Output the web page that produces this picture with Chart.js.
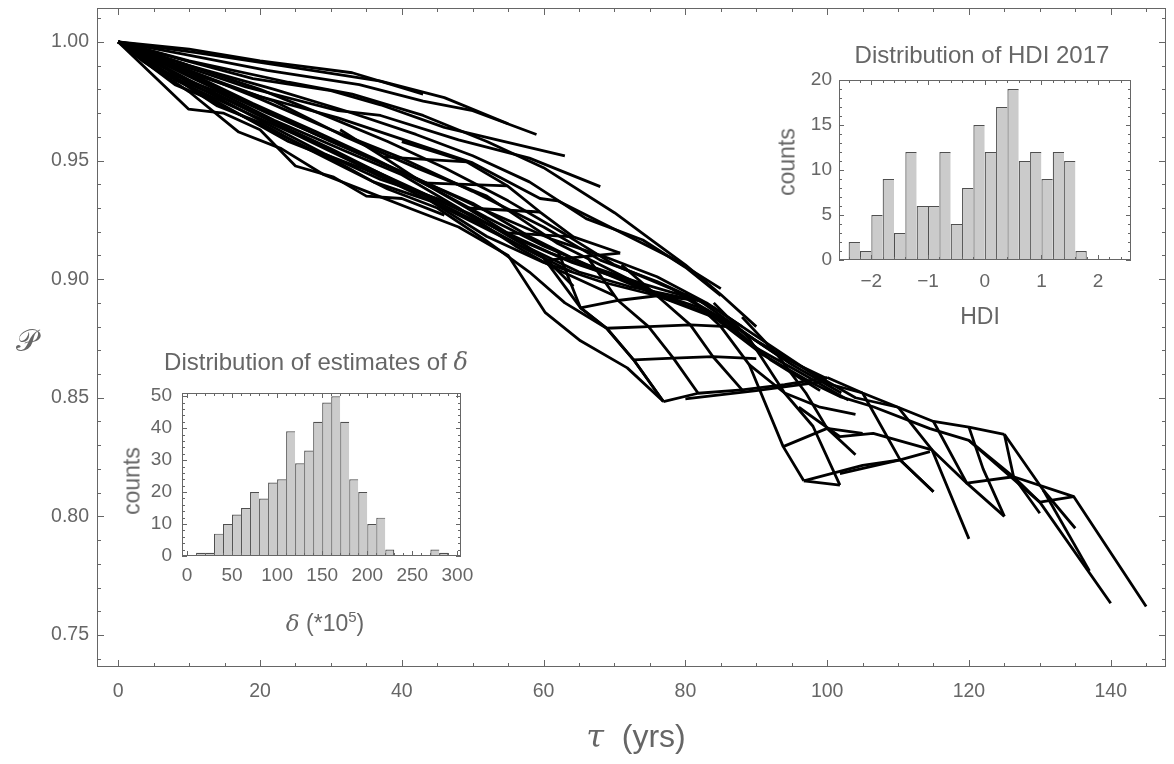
<!DOCTYPE html>
<html><head><meta charset="utf-8">
<script src="https://cdn.jsdelivr.net/npm/chart.js@4.4.1/dist/chart.umd.min.js"></script>
<style>
html,body{margin:0;padding:0;background:#fff;}
#wrap{position:relative;width:1174px;height:764px;overflow:hidden;font-family:"Liberation Sans",Arial,sans-serif;color:#666;}
canvas{position:absolute;}
.lbl{position:absolute;white-space:nowrap;transform:translate(-50%,-50%);line-height:1;}
.rot{transform:translate(-50%,-50%) rotate(-90deg);}
</style></head><body>
<div id="wrap">
<canvas id="main" width="1174" height="764" style="left:0;top:0;width:1174px;height:764px"></canvas>
<canvas id="hdi" width="350" height="230" style="left:795px;top:70px;width:350px;height:230px"></canvas>
<canvas id="delta" width="335" height="210" style="left:140px;top:385px;width:335px;height:210px"></canvas>
<div class="lbl" style="left:636px;top:736px;font-size:32px;"><i style="font-family:'DejaVu Serif',serif">τ</i>&nbsp;&nbsp;(yrs)</div>
<div class="lbl" style="left:27px;top:341px;font-size:30px;font-family:'DejaVu Serif',serif;">𝒫</div>
<div class="lbl" style="left:982px;top:55px;font-size:24px;">Distribution of HDI 2017</div>
<div class="lbl rot" style="left:787px;top:162px;font-size:23px;">counts</div>
<div class="lbl" style="left:980px;top:316px;font-size:23px;">HDI</div>
<div class="lbl" style="left:316px;top:362px;font-size:24px;">Distribution of estimates of <i style="font-family:'DejaVu Serif',serif">δ</i></div>
<div class="lbl rot" style="left:132px;top:481px;font-size:23px;">counts</div>
<div class="lbl" style="left:325px;top:622px;font-size:23px;"><i style="font-family:'DejaVu Serif',serif">δ</i> (*10<sup style="font-size:15px">5</sup>)</div>
</div>
<script>
// ---------- main chart data: polylines of [tau, P] ----------
const fanTop = [
 [[0,1],[10,0.997],[20,0.992],[33,0.987],[43,0.978]],
 [[0,1],[11,0.9955],[23,0.990],[37,0.9835],[46,0.9765],[55,0.9655]],
 [[0,1],[9,0.995],[21,0.988],[34,0.982],[43,0.975],[50,0.971],[59,0.961]],
 [[0,1],[9,0.9925],[19,0.9845],[30,0.9795],[37,0.9735],[46,0.964],[63,0.952]],
 [[0,1],[8,0.991],[18,0.981],[31,0.971],[37,0.969],[48,0.9587],[58,0.951],[68,0.939]],
 [[0,1],[10,0.992],[24,0.983],[33,0.978],[43,0.969],[52,0.958],[60,0.947],[70,0.928],[75,0.917],[80,0.906],[85,0.8935],[90,0.880]],
 [[0,1],[10,0.990],[22,0.980],[32,0.971],[42,0.961],[50,0.952],[58,0.941],[66,0.9255],[74,0.9165],[80,0.905],[85,0.893]],
 [[0,1],[9,0.989],[20,0.977],[31,0.968],[40,0.959],[50,0.949],[59.5,0.934],[62,0.933],[70,0.921],[78,0.909],[85,0.896]]
];
const ladder = [
 [[31.3,0.963],[37.4,0.9515],[43,0.9406],[49.2,0.930],[54.9,0.9195],[60.5,0.908],[64.2,0.897]],
 [[40,0.958],[49.2,0.9494],[54.9,0.9393],[59.5,0.9283],[64.2,0.9178],[70.8,0.911]],
 [[37.4,0.9515],[49.2,0.9494]],
 [[43,0.9406],[54.9,0.9393]],
 [[49.2,0.930],[59.5,0.9283]],
 [[54.9,0.9195],[64.2,0.9178]],
 [[60.5,0.908],[70.8,0.911]]
];
const fanMid = [
 [[0,1],[10,0.990],[20,0.980],[30,0.968],[38,0.958],[46,0.947],[55,0.933],[63,0.919],[70,0.906],[78,0.896],[86,0.882],[93,0.868],[100,0.858]],
 [[0,1],[10,0.988],[20,0.976],[30,0.963],[40,0.951],[50,0.937],[60,0.922],[68,0.908],[76,0.899],[84,0.888],[92,0.872],[100,0.856],[105,0.852]],
 [[0,1],[10,0.986],[20,0.972],[30,0.958],[40,0.945],[50,0.932],[58,0.918],[66,0.906],[74,0.898],[82,0.891],[90,0.874],[97,0.862],[104,0.850],[110,0.846]],
 [[0,1],[10,0.984],[20,0.969],[30,0.955],[40,0.940],[50,0.927],[58,0.913],[65,0.903],[72,0.897],[80,0.892],[88,0.878],[95,0.864],[102,0.852]],
 [[0,1],[9,0.983],[18,0.968],[27,0.955],[35,0.946],[44,0.933],[52,0.918],[60,0.907],[68,0.899],[76,0.893],[84,0.884],[91,0.868],[98,0.856]],
 [[0,1],[8,0.984],[16,0.973],[25,0.961],[34,0.948],[42,0.937],[50,0.925],[58,0.912],[64,0.903]],
 [[0,1],[6,0.988],[14,0.979],[22,0.967],[32,0.954],[40,0.944],[48,0.930],[56,0.914],[62,0.904],[70,0.893]],
 [[0,1],[12,0.985],[22,0.975],[32,0.960],[42,0.947],[52,0.935],[62,0.915],[70,0.903],[78,0.891]],
 [[0,1],[10,0.987],[19,0.974],[28,0.962],[36,0.951],[44,0.939],[52,0.926],[60,0.914],[67,0.905],[75,0.895],[83,0.887],[90,0.871],[96,0.861],[103,0.849]],
 [[0,1],[10,0.983],[20,0.967],[29,0.953],[37,0.942],[45,0.934],[53,0.922],[61,0.911],[69,0.902],[77,0.892],[85,0.884],[92,0.866],[99,0.853]],
 [[0,1],[7,0.986],[15,0.976],[24,0.963],[33,0.950],[41,0.939],[49,0.928],[57,0.916],[64,0.907],[72,0.899],[80,0.889]],
 [[0,1],[11,0.984],[21,0.970],[31,0.957],[41,0.944],[51,0.930],[61,0.917],[69,0.909],[76,0.901],[83,0.890],[88,0.880]]
];
const fanLow = [
 [[0,1],[9.9,0.9717],[14.8,0.970],[20,0.963],[25,0.9477],[30.4,0.943],[35,0.935],[40,0.934],[46,0.927]],
 [[0,1],[3.6,0.9916],[10,0.979],[17,0.962],[23,0.955],[29,0.944],[35,0.937],[41,0.930],[48,0.922],[55,0.910],[60.2,0.886],[65.2,0.874],[71.8,0.8626],[76.9,0.8484]],
 [[0,1],[6.3,0.988],[14,0.973],[20,0.966],[26,0.956],[32,0.947],[38,0.938],[45,0.930],[52,0.916],[58,0.903],[63,0.890],[68.9,0.8793],[72.7,0.866],[76.9,0.8484]],
 [[0,1],[8,0.982],[12,0.977],[18,0.968],[24,0.958],[30,0.951],[36,0.941],[44,0.933],[52,0.921],[60,0.909],[65.2,0.888],[68.9,0.8793]]
];
const quads = [
 [[62,0.912],[65.2,0.8879],[68.9,0.8793],[72.7,0.866],[76.9,0.8484]],
 [[66,0.910],[70.5,0.891],[74.8,0.880],[78.3,0.8667],[81.8,0.8519]],
 [[71,0.906],[76,0.893],[80.7,0.8807],[83.9,0.8673],[88,0.8533]],
 [[76.9,0.8484],[81.8,0.8519],[88,0.8533],[94,0.8555],[100,0.8585]],
 [[72.7,0.866],[78.3,0.8667],[83.9,0.8673],[90,0.8665]],
 [[68.9,0.8793],[74.8,0.880],[80.7,0.8807],[86,0.880]],
 [[65.2,0.8879],[70.5,0.891],[76,0.893],[82,0.891]],
 [[80,0.8495],[90,0.853],[100,0.857]],
 [[80,0.894],[85,0.880],[89,0.864],[93.8,0.8294],[96.7,0.815]],
 [[84,0.890],[89,0.875],[94,0.852],[98,0.838],[101.8,0.8132]],
 [[88,0.884],[93,0.868],[97,0.852],[100,0.8371],[104,0.826]],
 [[96.7,0.815],[101.8,0.8132]],
 [[93.8,0.8294],[100,0.8371],[105,0.835]],
 [[96.7,0.815],[105,0.8215],[110.3,0.8238],[114.5,0.8273]],
 [[89,0.864],[94,0.852],[99,0.846],[104,0.843]]
];
const rightMesh = [
 [[100,0.8585],[105,0.852],[110,0.846],[115,0.840],[120,0.8376],[125,0.8346]],
 [[98,0.856],[101.8,0.8505],[106.5,0.8462],[114.5,0.837],[120,0.832],[126.3,0.8167],[130,0.806],[134.8,0.8083]],
 [[96,0.846],[101.8,0.8336],[106.5,0.835],[114.8,0.828],[119.7,0.814],[126.3,0.8167]],
 [[101.8,0.818],[110.3,0.8238],[115,0.8104]],
 [[125,0.8346],[130.5,0.811],[135,0.795]],
 [[125,0.8346],[126.3,0.8167],[130,0.8013]],
 [[120,0.8376],[122,0.82],[125,0.800]],
 [[115,0.840],[119.7,0.814],[125,0.800]],
 [[110,0.846],[114.8,0.828],[120,0.7905]],
 [[105,0.852],[110.3,0.8238],[115,0.8104]],
 [[126.3,0.8167],[134.8,0.8083],[145,0.762]],
 [[120,0.832],[130,0.806],[140,0.7634]],
 [[130.5,0.811],[137,0.777]]
];
const xTickValues = [0,20,40,60,80,100,120,140];
const yTickValues = [0.75,0.80,0.85,0.90,0.95,1.00];

// ---------- insets ----------
const hdiBinStart = [-2.4,-2.2,-2.0,-1.8,-1.6,-1.4,-1.2,-1.0,-0.8,-0.6,-0.4,-0.2,0,0.2,0.4,0.6,0.8,1.0,1.2,1.4,1.6];
const hdiCounts   = [2,1,5,9,3,12,6,6,12,4,8,15,12,17,19,11,12,9,12,11,1];
const hdiXTicks = [-2,-1,0,1,2];
const hdiYTicks = [0,5,10,15,20];

const deltaBinStart = [10,20,30,40,50,60,70,80,90,100,110,120,130,140,150,160,170,180,190,200,210,220,270,280];
const deltaCounts   = [1,1,7,10,13,15,20,18,23,24,39,29,33,42,48,50,42,24,20,10,12,2,2,1];
const deltaXTicks = [0,50,100,150,200,250,300];
const deltaYTicks = [0,10,20,30,40,50];

const GRAY = '#666';
const FONT = '"Liberation Sans", Arial, sans-serif';

function range(a,b,s){const r=[];for(let v=a;v<=b+1e-9;v+=s)r.push(+v.toFixed(6));return r;}

const framePlugin = {
  id:'frame',
  afterDatasetsDraw(chart, args, o){
    const {ctx, chartArea:a, scales} = chart;
    const x = scales.x, y = scales.y;
    ctx.save();
    ctx.strokeStyle = GRAY; ctx.lineWidth = 1;
    ctx.strokeRect(Math.round(a.left)+0.5, Math.round(a.top)+0.5, Math.round(a.right-a.left)-1, Math.round(a.bottom-a.top)-1);
    ctx.beginPath();
    const xt = (vals,len)=>vals.forEach(v=>{ if(v<x.min||v>x.max) return; const p=Math.round(x.getPixelForValue(v))+0.5;
      ctx.moveTo(p,a.bottom); ctx.lineTo(p,a.bottom-len); ctx.moveTo(p,a.top); ctx.lineTo(p,a.top+len);});
    const yt = (vals,len)=>vals.forEach(v=>{ if(v<y.min||v>y.max) return; const p=Math.round(y.getPixelForValue(v))+0.5;
      ctx.moveTo(a.left,p); ctx.lineTo(a.left+len,p); ctx.moveTo(a.right,p); ctx.lineTo(a.right-len,p);});
    xt(o.xMinor,o.minLen); xt(o.xMajor,o.majLen); yt(o.yMinor,o.minLen); yt(o.yMajor,o.majLen);
    ctx.stroke();
    ctx.restore();
  }
};

function fixedTicks(vals){ return (scale)=>{ scale.ticks = vals.map(v=>({value:v})); }; }
function fitX(h){ return (s)=>{ s.height=h; s.paddingLeft=0; s.paddingRight=0; s.paddingTop=0; s.paddingBottom=0; }; }
function fitY(w){ return (s)=>{ s.width=w; s.paddingLeft=0; s.paddingRight=0; s.paddingTop=0; s.paddingBottom=0; }; }

// ---------- main chart ----------
const allLines = [...fanTop, ...ladder, ...fanMid, ...fanLow, ...quads, ...rightMesh];
new Chart(document.getElementById('main'), {
  type:'line',
  data:{ datasets: allLines.map(line=>({
    data: line.map(p=>({x:p[0], y:p[1]})),
    borderColor:'#000', borderWidth:2.8, pointRadius:0, tension:0, fill:false,
    borderJoinStyle:'round', borderCapStyle:'butt'
  }))},
  options:{
    responsive:false, animation:false, events:[],
    layout:{padding:{left:0,right:8,top:8,bottom:0}},
    plugins:{legend:{display:false}, tooltip:{enabled:false},
      frame:{xMajor:xTickValues, xMinor:range(0,145,5), yMajor:yTickValues, yMinor:range(0.74,1.01,0.01), majLen:7, minLen:4}},
    scales:{
      x:{type:'linear', min:-3, max:147.8, grid:{display:false, drawTicks:false}, border:{display:false},
         afterBuildTicks:fixedTicks(xTickValues), afterFit:fitX(97),
         ticks:{color:GRAY, font:{family:FONT,size:19.5}, padding:13, maxRotation:0, callback:(v)=>String(v)}},
      y:{type:'linear', min:0.7365, max:1.0143, grid:{display:false, drawTicks:false}, border:{display:false},
         afterBuildTicks:fixedTicks(yTickValues), afterFit:fitY(97),
         ticks:{color:GRAY, font:{family:FONT,size:19.5}, padding:8, callback:(v)=>Number(v).toFixed(2)}}
    }
  },
  plugins:[framePlugin]
});

// ---------- histogram helper ----------
function histogram(id, starts, counts, width, cfg){
  const lastInRun = starts.map((s,i)=> i===starts.length-1 || Math.abs(starts[i+1]-s-width)>1e-6);
  new Chart(document.getElementById(id), {
    type:'bar',
    data:{ datasets:[{
      data: starts.map((s,i)=>({x:s+width/2, y:counts[i]})),
      backgroundColor:'#cbcbcb', borderColor:'#4f4f4f',
      borderWidth:(c)=>({top:1.2,left:1.2,right:lastInRun[c.dataIndex]?1.2:0,bottom:0}), borderSkipped:false,
      barPercentage:1, categoryPercentage:1, inflateAmount:0
    }]},
    options:{
      responsive:false, animation:false, events:[],
      layout:{padding:{left:0,right:cfg.padRight,top:cfg.padTop,bottom:0}},
      plugins:{legend:{display:false}, tooltip:{enabled:false},
        frame:{xMajor:cfg.xTicks, xMinor:cfg.xMinor, yMajor:cfg.yTicks, yMinor:cfg.yMinor, majLen:5, minLen:3}},
      scales:{
        x:{type:'linear', min:cfg.xMin, max:cfg.xMax, offset:false, grid:{display:false, drawTicks:false}, border:{display:false},
           afterBuildTicks:fixedTicks(cfg.xTicks), afterFit:fitX(cfg.xH),
           ticks:{color:GRAY, font:{family:FONT,size:19}, padding:cfg.xPad, maxRotation:0,
                  callback:(v)=> v<0 ? '\u2212'+Math.abs(v) : String(v)}},
        y:{type:'linear', min:0, max:cfg.yMax, grid:{display:false, drawTicks:false}, border:{display:false},
           afterBuildTicks:fixedTicks(cfg.yTicks), afterFit:fitY(cfg.yW),
           ticks:{color:GRAY, font:{family:FONT,size:19}, padding:cfg.yPad, callback:(v)=>String(v)}}
      }
    },
    plugins:[framePlugin]
  });
}

histogram('hdi', hdiBinStart, hdiCounts, 0.2, {
  xMin:-2.57, xMax:2.58, yMax:20, xTicks:hdiXTicks, yTicks:hdiYTicks,
  xMinor:range(-2.4,2.4,0.2), yMinor:range(0,20,1),
  padRight:14, padTop:10, xH:40, yW:44, xPad:10, yPad:7
});
histogram('delta', deltaBinStart, deltaCounts, 10, {
  xMin:-5.5, xMax:304, yMax:51, xTicks:deltaXTicks, yTicks:deltaYTicks,
  xMinor:range(0,300,10), yMinor:range(0,50,2),
  padRight:14, padTop:8, xH:39, yW:42, xPad:8, yPad:10
});
</script>
</body></html>
